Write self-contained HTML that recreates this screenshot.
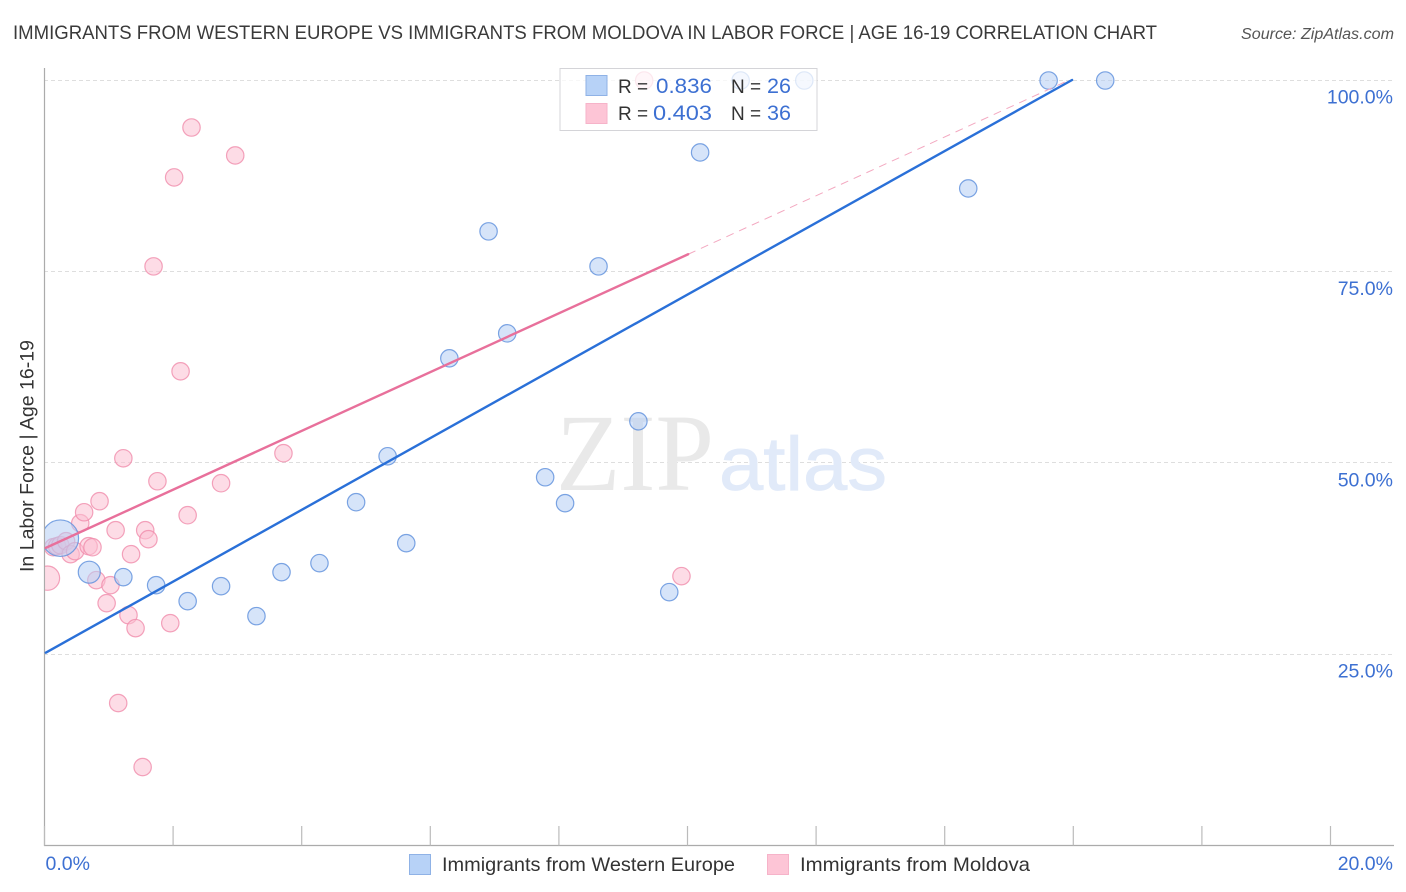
<!DOCTYPE html>
<html lang="en">
<head>
<meta charset="utf-8">
<title>Immigrants from Western Europe vs Immigrants from Moldova in Labor Force | Age 16-19 Correlation Chart</title>
<style>
html,body{margin:0;padding:0;background:#fff;}
svg{display:block;}
text{font-family:"Liberation Sans",sans-serif;}
</style>
</head>
<body>
<svg id="chart" xmlns="http://www.w3.org/2000/svg" width="1406" height="892" viewBox="0 0 1406 892">
  <defs>
    <clipPath id="plot-clip"><rect x="45" y="60" width="1349" height="786"/></clipPath>
  </defs>
  <rect x="0" y="0" width="1406" height="892" fill="#ffffff"/>
  <text x="13" y="39" font-size="19.5" fill="#3a3a3a" textLength="1144" lengthAdjust="spacingAndGlyphs">IMMIGRANTS FROM WESTERN EUROPE VS IMMIGRANTS FROM MOLDOVA IN LABOR FORCE | AGE 16-19 CORRELATION CHART</text>
  <text x="1241" y="39" font-size="15.5" font-style="italic" fill="#555555" textLength="153" lengthAdjust="spacingAndGlyphs">Source: ZipAtlas.com</text>
  <g id="grid"></g>
  <g>
    <text x="556" y="490" style="font-family:'Liberation Serif',serif" font-size="110" fill="#e9e9e9" textLength="158" lengthAdjust="spacingAndGlyphs">ZIP</text>
    <text x="719" y="490" font-size="76" fill="#e1eaf9" stroke="#e1eaf9" stroke-width="0.8" textLength="168" lengthAdjust="spacingAndGlyphs">atlas</text>
  </g>
  <g id="axes"></g>
  <g clip-path="url(#plot-clip)">
    <g id="points-pink" transform="translate(0.4,0.5)"></g>
    <g id="points-blue" transform="translate(0.4,0.5)"></g>
  </g>
  <g id="trendlines"></g>
  <g id="labels"></g>
  <text transform="translate(33.5,572) rotate(-90)" x="0" y="0" font-size="19" fill="#333333" textLength="232" lengthAdjust="spacingAndGlyphs">In Labor Force | Age 16-19</text>

  <g>
    <rect x="560" y="68.5" width="257" height="62" fill="#ffffff" fill-opacity="0.75" stroke="#d4d4d8" stroke-width="1"/>
    <rect x="586" y="75.5" width="21" height="20" fill="#b7d2f7" stroke="#8fb2e6" stroke-width="1"/>
    <rect x="586" y="103.5" width="21" height="20" fill="#fdc5d6" stroke="#f6b3c9" stroke-width="1"/>
    <text x="618" y="93" font-size="19" fill="#333333">R =</text>
    <text x="656" y="93" font-size="21" fill="#3d70d2" textLength="56" lengthAdjust="spacingAndGlyphs">0.836</text>
    <text x="731" y="93" font-size="19" fill="#333333">N =</text>
    <text x="767" y="93" font-size="21" fill="#3d70d2" textLength="24" lengthAdjust="spacingAndGlyphs">26</text>
    <text x="618" y="120" font-size="19" fill="#333333">R =</text>
    <text x="653" y="120" font-size="21" fill="#3d70d2" textLength="59" lengthAdjust="spacingAndGlyphs">0.403</text>
    <text x="731" y="120" font-size="19" fill="#333333">N =</text>
    <text x="767" y="120" font-size="21" fill="#3d70d2" textLength="24" lengthAdjust="spacingAndGlyphs">36</text>
  </g>

  <g>
    <rect x="409.5" y="854.5" width="21" height="20" fill="#b7d2f7" stroke="#8fb2e6" stroke-width="1"/>
    <text x="442" y="871" font-size="19.5" fill="#333333" textLength="293" lengthAdjust="spacingAndGlyphs">Immigrants from Western Europe</text>
    <rect x="767.5" y="854.5" width="21" height="20" fill="#fdc5d6" stroke="#f6b3c9" stroke-width="1"/>
    <text x="800" y="871" font-size="19.5" fill="#333333" textLength="230" lengthAdjust="spacingAndGlyphs">Immigrants from Moldova</text>
  </g>
</svg>
<script>
const blueX = [0.24,0.69,1.22,1.73,2.22,2.74,3.29,3.68,4.27,4.84,5.33,5.62,6.29,6.90,7.19,7.78,8.09,8.61,9.23,9.71,10.19,10.82,11.81,14.36,15.61,16.49];
const blueY = [40.21,35.77,35.12,34.07,31.98,33.94,30.03,35.77,36.95,44.91,50.91,39.56,63.71,80.29,66.97,48.17,44.78,75.72,55.48,33.16,90.60,100,100,85.90,100,100];
const blueWeight = [4.4,1.6,1,1,1,1,1,1,1,1,1,1,1,1,1,1,1,1,1,1,1,1,1,1,1,1];
const pinkX = [0.04,0.13,0.19,0.24,0.33,0.40,0.47,0.55,0.61,0.68,0.74,0.80,0.85,0.96,1.02,1.10,1.14,1.22,1.30,1.34,1.41,1.52,1.56,1.61,1.69,1.75,1.95,2.01,2.11,2.22,2.28,2.74,2.96,3.71,9.32,9.90];
const pinkY = [34.99,39.03,39.16,39.30,39.82,38.12,38.51,42.17,43.60,39.16,39.03,34.73,45.04,31.72,34.07,41.25,18.67,50.65,30.16,38.12,28.46,10.31,41.25,40.08,75.72,47.65,29.11,87.34,62.01,43.21,93.86,47.39,90.21,51.31,100,35.25];
const pinkWeight = [1.95,1,1,1,1,1,1,1,1,1,1,1,1,1,1,1,1,1,1,1,1,1,1,1,1,1,1,1,1,1,1,1,1,1,1,1];
const yTicks = [25,50,75,100];
const yTickLabels = ["25.0%","50.0%","75.0%","100.0%"];
const xTicks = [0,2,4,6,8,10,12,14,16,18,20];
const xEndTicks = [0,20];
const xEndLabels = ["0.0%","20.0%"];
const blueTrend = [25.1,4.687];
const pinkTrend = [38.8,3.84];
const pinkSolidEnd = [10.01];

const NS = "http://www.w3.org/2000/svg";
function sx(v){ return 44.5 + v * 64.3; }
function sy(v){ return 845.5 - v * 7.655; }
function mk(parent, tag, attrs){
  const el = document.createElementNS(NS, tag);
  for (const k in attrs) el.setAttribute(k, attrs[k]);
  document.getElementById(parent).appendChild(el);
  return el;
}

yTicks.forEach(function(t){
  const gy = Math.floor(sy(t)) + 0.5;
  const g = mk("grid","line",{x1:44,x2:1394,y1:gy,y2:gy,stroke:"#dedede","stroke-width":1,"stroke-dasharray":"4 3"});
  
  
});

const yAxis = mk("axes","line",{x1:44.5,x2:44.5,y1:68,y2:846,stroke:"#ababab","stroke-width":1.2});


const xAxis = mk("axes","line",{x1:44,x2:1394,y1:845.5,y2:845.5,stroke:"#ababab","stroke-width":1.2});


xTicks.forEach(function(t){
  const k = mk("axes","line",{x1:sx(t),x2:sx(t),y1:826,y2:845.5,stroke:"#bbbbbb","stroke-width":1.2});
  
  
});

function drawPoints(parent, xs, ys, ws, fill, stroke, name){
  xs.forEach(function(x,i){
    const c = mk(parent,"circle",{cx:sx(x),cy:sy(ys[i]),r:8.7*Math.sqrt(ws[i]),fill:fill,"fill-opacity":0.55,stroke:stroke,"stroke-opacity":0.8,"stroke-width":1.2});
    
    
  });
}
drawPoints("points-pink", pinkX, pinkY, pinkWeight, "#fbc0d2", "#f08cab", "moldova-point");
drawPoints("points-blue", blueX, blueY, blueWeight, "#b4cef4", "#5c8fdc", "western-europe-point");

function trendY(tr, x){ return tr[0] + tr[1] * x; }
const pinkStart = 0.02;
const pinkDashEnd = (100 - pinkTrend[0]) / pinkTrend[1];
const pd = mk("trendlines","line",{x1:sx(pinkSolidEnd[0]),y1:sy(trendY(pinkTrend,pinkSolidEnd[0])),x2:sx(pinkDashEnd),y2:sy(100),stroke:"#f3a8c0","stroke-width":1,"stroke-dasharray":"8 6"});


const pl = mk("trendlines","line",{x1:sx(pinkStart),y1:sy(trendY(pinkTrend,pinkStart)),x2:sx(pinkSolidEnd[0]),y2:sy(trendY(pinkTrend,pinkSolidEnd[0])),stroke:"#e8709b","stroke-width":2.4,"stroke-linecap":"round"});


const blueStart = 0.02;
const blueEnd = (100 - blueTrend[0]) / blueTrend[1];
const bl = mk("trendlines","line",{x1:sx(blueStart),y1:sy(trendY(blueTrend,blueStart)),x2:sx(blueEnd),y2:sy(100),stroke:"#2a70d8","stroke-width":2.4,"stroke-linecap":"round"});



yTicks.forEach(function(t,i){
  const l = mk("labels","text",{x:1393,y:sy(t)+23.5,"font-size":19.5,fill:"#3d70d2","text-anchor":"end"});
  l.textContent = yTickLabels[i];
  
  
});
xEndTicks.forEach(function(t,i){
  const l = mk("labels","text",i === 0 ? {x:sx(t)+1,y:870,"font-size":19.5,fill:"#3d70d2"} : {x:1393,y:870,"font-size":19.5,fill:"#3d70d2","text-anchor":"end"});
  l.textContent = xEndLabels[i];
  
  
});
</script>
</body>
</html>
